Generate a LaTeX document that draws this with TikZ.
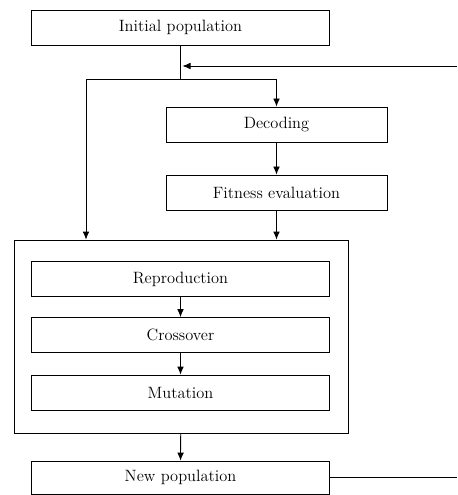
\documentclass[tikz,border=0pt]{standalone}
\usetikzlibrary{arrows.meta}
\begin{document}
		\begin{tikzpicture}[x=0.75pt,y=-0.75pt,line width=0.6pt,
			box/.style={draw,minimum width=223.5pt,minimum height=26.25pt,inner sep=0pt,font=\fontsize{12.3}{14}\selectfont},
			sbox/.style={box,minimum width=165.75pt},
			arr/.style={-{Latex[length=6pt,width=5pt]}}]
			\useasboundingbox (0,0) rectangle (457,495);
			\node[box] (init) at (180.5,27.5) {Initial population};
			\node[sbox] (dec) at (276.5,124.5) {Decoding};
			\node[sbox] (fit) at (276.5,192.5) {Fitness evaluation};
			\node[draw,minimum width=250.5pt,minimum height=144.75pt,inner sep=0pt] (ga) at (181,336.5) {};
			\node[box] (rep) at (180.5,279) {Reproduction};
			\node[box] (cro) at (180.5,335) {Crossover};
			\node[box] (mut) at (180.5,392.5) {Mutation};
			\node[box,minimum height=24.75pt] (new) at (180.5,477.5) {New population};
			\coordinate (j) at (180.5,79);
			\coordinate (l) at (86,79);
			\coordinate (fb) at (457,66);
			%Trên
			\draw (init) -- (j);
			\draw[arr] (j) -| (dec);
			\draw[arr] (j) -- (l) -- (l |- ga.north);
			\draw[arr] (fb) -- ([xshift=1.5pt]init.south |- fb);
			\draw[arr] (dec) -- (fit);
			\draw[arr] (fit) -- (fit.south |- ga.north);
			%Dưới
			\foreach \p/\q in {rep/cro,cro/mut}{\draw[arr] (\p) -- (\q);}
			\draw[arr] (ga) -- (new);
			\draw (new.east) -- (new.east -| fb);
		\end{tikzpicture}
\end{document}
